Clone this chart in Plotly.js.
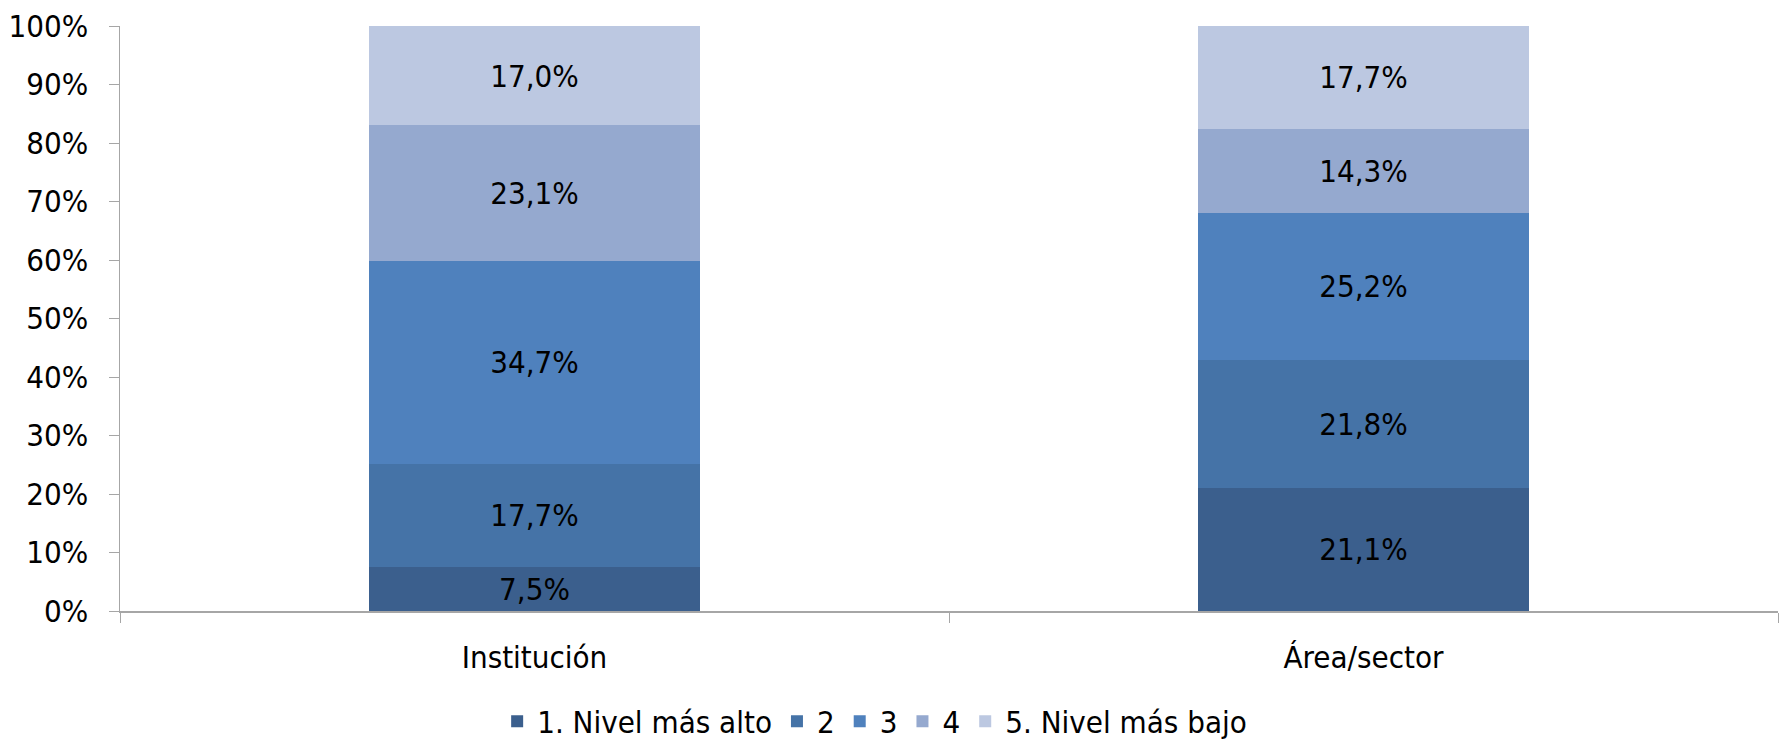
<!DOCTYPE html>
<html>
<head>
<meta charset="utf-8">
<script src="https://cdn.plot.ly/plotly-3.0.1.min.js"></script>
<style>html,body{margin:0;padding:0;background:#fff}#chart{width:1785px;height:740px}</style>
</head>
<body>
<div id="chart"></div>
<script>
var categories = ["Institución", "Área/sector"];
var seriesNames = ["1. Nivel más alto", "2", "3", "4", "5. Nivel más bajo"];
var nivel1 = [7.5, 21.1];
var nivel2 = [17.7, 21.8];
var nivel3 = [34.7, 25.2];
var nivel4 = [23.1, 14.3];
var nivel5 = [17.0, 17.7];
var yTicks = [0, 10, 20, 30, 40, 50, 60, 70, 80, 90, 100];
var colors = ["#3b5f8d", "#4573a7", "#4f81bd", "#95a9cf", "#bcc8e1"];

var FONT = "'Liberation Sans Narrow', 'Arial Narrow', 'DejaVu Sans Condensed', sans-serif";
var FS = 31;
var series = [nivel1, nivel2, nivel3, nivel4, nivel5];
var traces = series.map(function (vals, i) {
  return {
    type: "bar",
    name: seriesNames[i],
    x: categories,
    y: vals,
    marker: {color: colors[i], line: {width: 0}},
    texttemplate: "%{y:.1f}%",
    textposition: "inside",
    insidetextanchor: "middle",
    constraintext: "none",
    textangle: 0,
    textfont: {family: FONT, size: FS, color: "#000"},
    hoverinfo: "none"
  };
});

var layout = {
  width: 1785, height: 740,
  barmode: "stack",
  bargap: 0.6,
  separators: ",.",
  paper_bgcolor: "#fff", plot_bgcolor: "#fff",
  margin: {l: 120, r: 7, t: 26, b: 129, autoexpand: false},
  font: {family: FONT, size: FS, color: "#000"},
  showlegend: true,
  legend: {orientation: "h", x: 0.49, xanchor: "center", xref: "container",
           y: 0.025, yanchor: "middle", yref: "container",
           traceorder: "normal", font: {family: FONT, size: FS, color: "#000"}},
  xaxis: {type: "category", showline: true, linecolor: "#a6a6a6", linewidth: 1.5,
          ticks: "outside", tickson: "boundaries", ticklen: 10, tickcolor: "#a6a6a6",
          ticklabelstandoff: 18,
          showgrid: false, zeroline: false, automargin: false, tickfont: {family: FONT, size: FS}},
  yaxis: {range: [0, 100], showline: true, linecolor: "#a6a6a6", linewidth: 1.5,
          ticks: "outside", ticklen: 10, tickcolor: "#a6a6a6", automargin: false,
          ticklabelstandoff: 14,
          tickvals: yTicks, ticktext: yTicks.map(function (v) { return v + "%"; }),
          showgrid: false, zeroline: false, tickfont: {family: FONT, size: FS}}
};

Plotly.newPlot("chart", traces, layout, {staticPlot: true});
</script>
</body>
</html>
